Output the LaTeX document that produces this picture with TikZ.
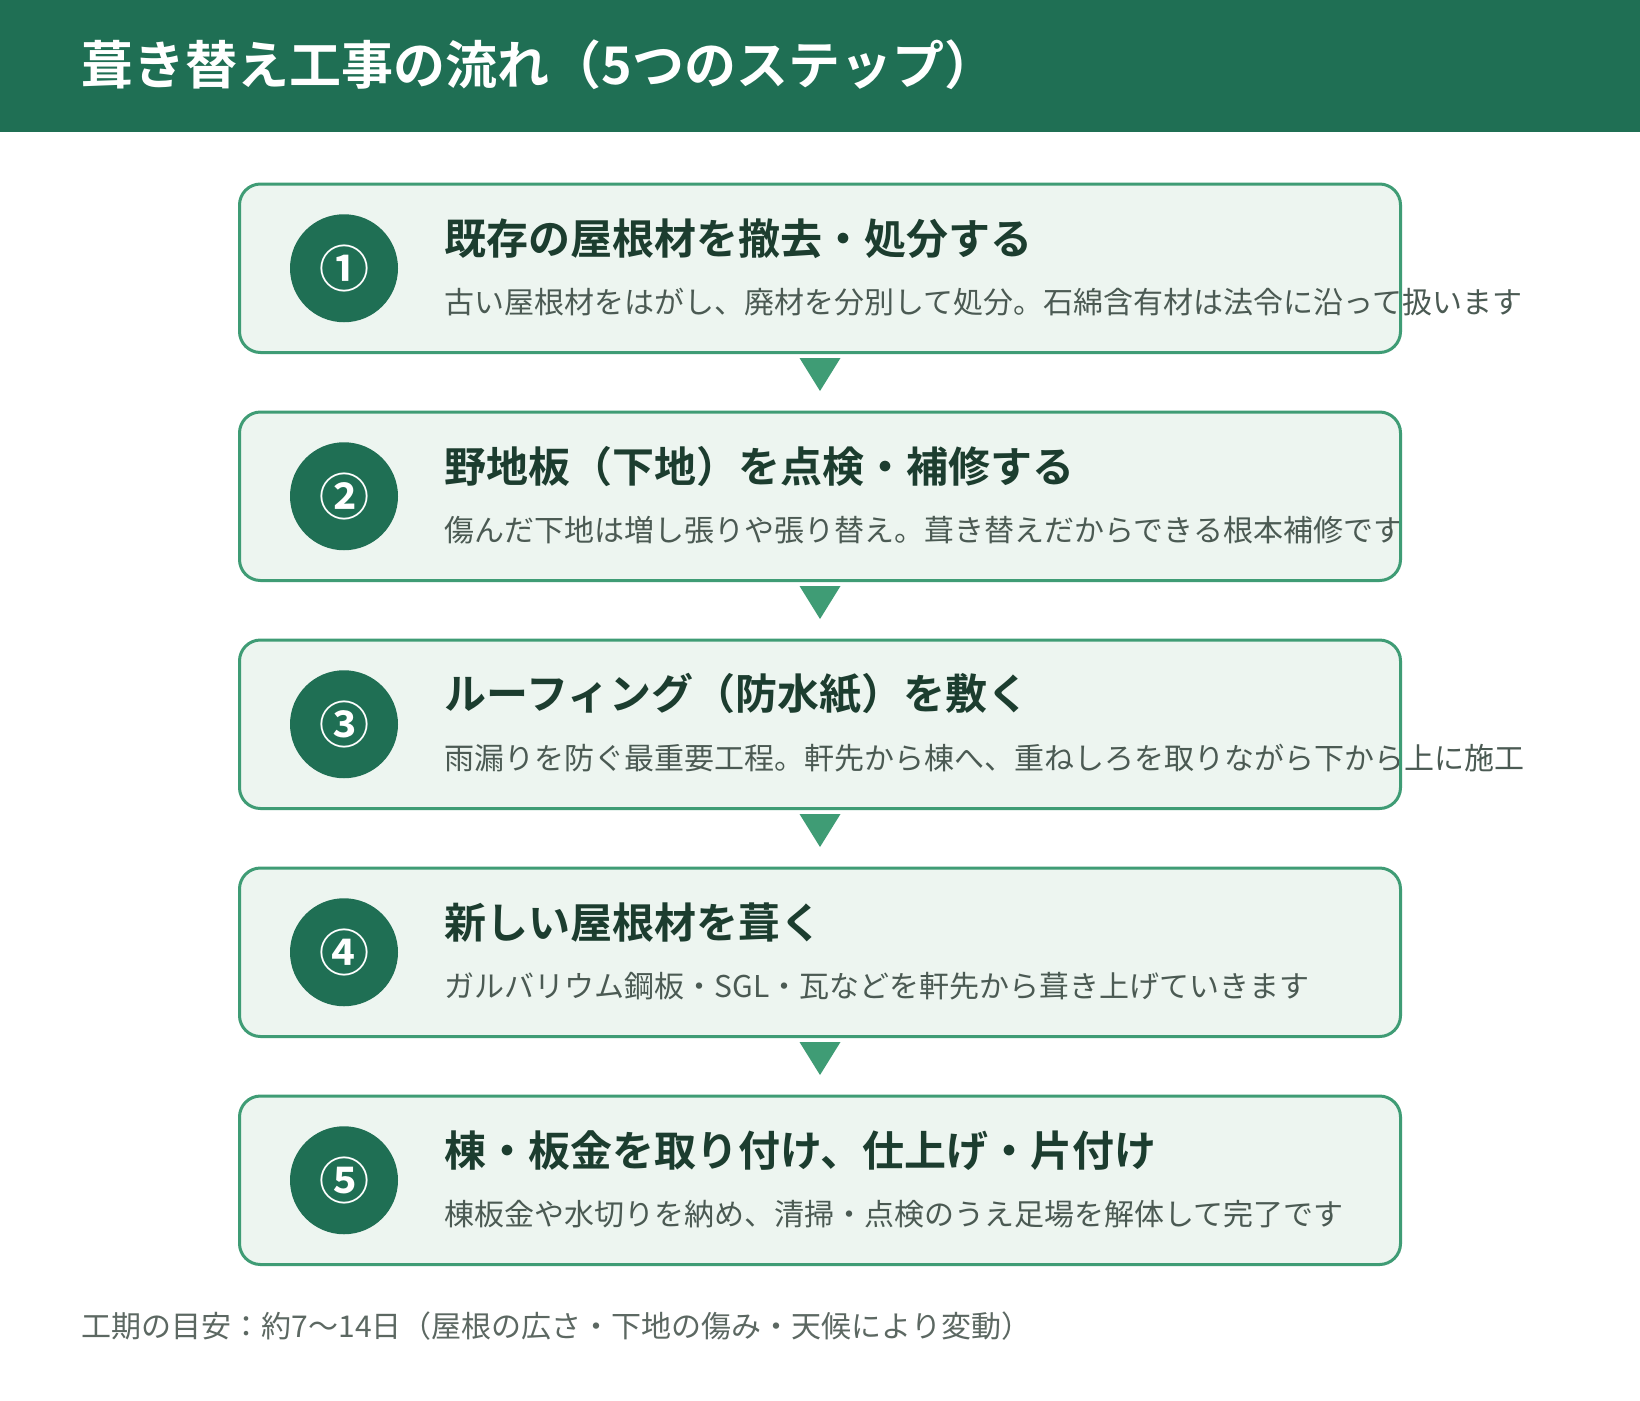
\documentclass[tikz,border=0pt]{standalone}
\usepackage{fontspec}
\setmainfont{Noto Sans CJK JP}[BoldFont={Noto Sans CJK JP Bold}]
\usetikzlibrary{positioning,calc}
\definecolor{headgreen}{RGB}{31,111,84}
\definecolor{linegreen}{RGB}{63,156,117}
\definecolor{boxfill}{RGB}{237,245,240}
\definecolor{titlecol}{RGB}{28,61,47}
\definecolor{subcol}{RGB}{75,90,83}
\definecolor{footcol}{RGB}{92,104,98}

\begin{document}
\begin{tikzpicture}[x=1pt,y=-1pt,
    stepbox/.style={fill=boxfill,rounded corners=21pt,minimum width=1161pt,minimum height=168.5pt,inner sep=0pt,outer sep=0pt},
    stepline/.style={draw=linegreen,line width=3pt,rounded corners=21pt},
    numcirc/.style={circle,fill=headgreen,minimum size=108pt,inner sep=0pt,text=white,font=\fontsize{50}{50}\selectfont\bfseries},
    steptitle/.style={anchor=west,inner sep=0pt,text=titlecol,font=\fontsize{42}{50}\selectfont\bfseries},
    stepsub/.style={anchor=west,inner sep=0pt,text=subcol,font=\fontsize{30}{36}\selectfont}]
\useasboundingbox (0,0) rectangle (1640,1400);
\fill[white] (0,0) rectangle (1640,1400);

% header
\node[fill=headgreen,minimum width=1640pt,minimum height=132pt,inner sep=0pt,outer sep=0pt] (head) at (820,66) {};
\node[anchor=west,inner sep=0pt,text=white,font=\fontsize{52}{60}\selectfont\bfseries] (headtitle) at (81.5,65) {葺き替え工事の流れ（5つのステップ）};

% steps
\foreach \i/\num/\ttl/\sub in {
    1/①/{既存の屋根材を撤去・処分する}/{古い屋根材をはがし、廃材を分別して処分。石綿含有材は法令に沿って扱います},
    2/②/{野地板（下地）を点検・補修する}/{傷んだ下地は増し張りや張り替え。葺き替えだからできる根本補修です},
    3/③/{ルーフィング（防水紙）を敷く}/{雨漏りを防ぐ最重要工程。軒先から棟へ、重ねしろを取りながら下から上に施工},
    4/④/{新しい屋根材を葺く}/{ガルバリウム鋼板・SGL・瓦などを軒先から葺き上げていきます},
    5/⑤/{棟・板金を取り付け、仕上げ・片付け}/{棟板金や水切りを納め、清掃・点検のうえ足場を解体して完了です}} {
    \pgfmathsetmacro\yy{268.25+(\i-1)*228}
    \node[stepbox] (box\i) at (820,\yy) {};
    \node[numcirc] (num\i) at (344,\yy) {\num};
    \node[steptitle] (ttl\i) at (444.5,\yy-30) {\ttl};
    \node[stepsub] (sub\i) at (444.5,\yy+34) {\sub};
    \draw[stepline] (box\i.north west) rectangle (box\i.south east);
}

% arrows between steps
\foreach \i in {1,...,4} {
    \fill[linegreen] ($(box\i.south)+(-20.5,5.5)$) -- ++(41,0) -- ++(-20.5,33) -- cycle;
}

\node[anchor=west,inner sep=0pt,text=footcol,font=\fontsize{30}{36}\selectfont] (foot) at (81.5,1326) {工期の目安：約7〜14日（屋根の広さ・下地の傷み・天候により変動）};
\end{tikzpicture}
\end{document}
